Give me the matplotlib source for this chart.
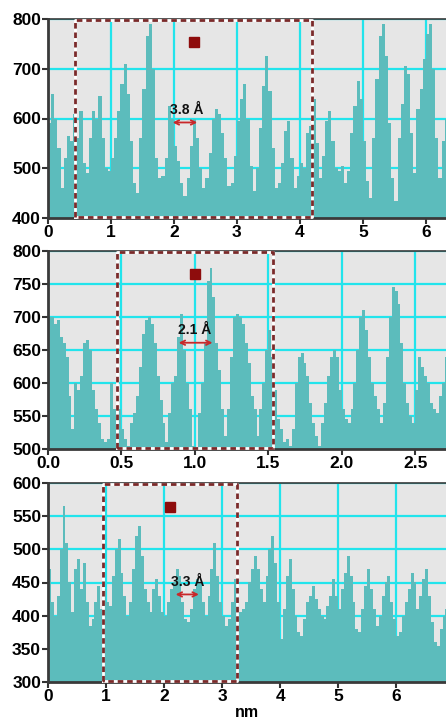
import matplotlib
matplotlib.use('Agg')
import matplotlib.pyplot as plt
import numpy as np

plt.rcParams['font.family'] = ['Liberation Sans', 'DejaVu Sans']

# profile heights, one value per bin
step_1 = 0.05
profile_1 = [
    590, 650, 600, 540, 460, 520, 565, 555, 610, 560, 615, 510, 490, 560, 615, 600,
    645, 560, 500, 495, 520, 560, 615, 670, 710, 650, 555, 470, 450, 560, 660, 765,
    790, 700, 520, 480, 485, 520, 625, 600, 545, 515, 470, 445, 480, 545, 600, 560,
    500, 460, 480, 530, 600, 620, 610, 570, 520, 465, 470, 525, 595, 640, 670, 600,
    505, 455, 500, 580, 665, 725, 655, 540, 460, 470, 510, 575, 595, 520, 460, 485,
    510, 500, 570, 585, 640, 550, 480, 525, 595, 615, 555, 500, 495, 505, 470, 495,
    570, 625, 675, 640, 555, 475, 440, 560, 680, 765, 790, 725, 590, 480, 435, 560,
    630, 705, 690, 570, 490, 620, 660, 720, 770, 790, 700, 560, 480, 555, 600,
]

step_2 = 0.02
profile_2 = [
    700, 700, 690, 695, 670, 660, 640, 580, 530, 600, 590, 610, 660, 665, 650, 590,
    560, 540, 515, 510, 515, 600, 560, 505, 560, 530, 515, 505, 540, 555, 580, 625,
    675, 695, 700, 690, 660, 610, 575, 540, 510, 555, 600, 610, 670, 705, 650, 600,
    560, 505, 500, 555, 600, 660, 755, 775, 730, 660, 620, 560, 520, 560, 640, 700,
    705, 700, 690, 660, 630, 580, 560, 520, 560, 600, 650, 680, 640, 590, 545, 530,
    510, 515, 505, 530, 600, 640, 645, 630, 610, 570, 540, 520, 505, 540, 570, 610,
    640, 650, 640, 590, 560, 545, 540, 560, 600, 650, 700, 710, 680, 640, 600, 580,
    560, 540, 570, 640, 700, 745, 740, 720, 660, 600, 570, 550, 540, 590, 640, 625,
    610, 600, 570, 560, 555, 580, 600, 640,
]

step_3 = 0.05
profile_3 = [
    470, 420, 400, 430, 500, 565, 510, 450, 405, 470, 485, 440, 480, 420, 385, 395,
    420, 445, 410, 440, 420, 415, 460, 500, 515, 465, 430, 400, 420, 470, 520, 535,
    490, 440, 420, 405, 440, 455, 430, 405, 400, 420, 440, 450, 470, 460, 420, 395,
    390, 410, 440, 455, 450, 420, 400, 430, 470, 510, 460, 420, 400, 385, 395, 420,
    455, 430, 405, 410, 420, 450, 470, 490, 470, 440, 420, 460, 500, 520, 480, 420,
    365, 410, 460, 485, 440, 400, 375, 370, 395, 420, 430, 445, 425, 410, 400, 395,
    415, 430, 455, 430, 410, 440, 465, 490, 460, 420, 380, 375, 410, 445, 470, 440,
    410, 385, 400, 430, 450, 460, 420, 395, 370, 375, 400, 420, 440, 465, 450, 410,
    430, 455, 470, 430, 390, 360, 355, 380, 400, 410,
]

panels = [
    dict(vals=profile_1, step=step_1, xlim=(0, 6.32), ylim=(400, 800),
         xticks=[0, 1, 2, 3, 4, 5, 6], xfmt='{:.0f}', yticks=[400, 500, 600, 700, 800],
         box=(0.43, 4.2), square=(2.32, 754), label='3.8 Å', label_xy=(2.2, 618),
         arrow=(1.98, 2.37, 592)),
    dict(vals=profile_2, step=step_2, xlim=(0, 2.71), ylim=(500, 800),
         xticks=[0.0, 0.5, 1.0, 1.5, 2.0, 2.5], xfmt='{:.1f}',
         yticks=[500, 550, 600, 650, 700, 750, 800],
         box=(0.47, 1.53), square=(1.0, 765), label='2.1 Å', label_xy=(1.0, 681),
         arrow=(0.89, 1.12, 661)),
    dict(vals=profile_3, step=step_3, xlim=(0, 6.86), ylim=(300, 600),
         xticks=[0, 1, 2, 3, 4, 5, 6], xfmt='{:.0f}',
         yticks=[300, 350, 400, 450, 500, 550, 600],
         box=(0.95, 3.26), square=(2.1, 564), label='3.3 Å', label_xy=(2.4, 451),
         arrow=(2.2, 2.6, 432)),
]

fig = plt.figure(figsize=(4.46, 7.22), dpi=100)
rects = [
    [48 / 446, 504 / 722, 398 / 446, 199 / 722],
    [48 / 446, 273 / 722, 398 / 446, 198 / 722],
    [48 / 446, 40 / 722, 398 / 446, 199 / 722],
]

for rect, p in zip(rects, panels):
    ax = fig.add_axes(rect)
    ax.set_facecolor('#e6e6e6')
    vals = np.array(p['vals'], dtype=float)
    edges = np.arange(len(vals) + 1) * p['step']
    ax.fill_between(edges, np.append(vals, vals[-1]), p['ylim'][0], step='post',
                    color='#5cbcbc', linewidth=0, zorder=2)
    ax.set_xlim(*p['xlim'])
    ax.set_ylim(*p['ylim'])
    ax.set_axisbelow(True)
    ax.grid(True, color='#22e4ec', linewidth=1.6)
    ax.set_xticks(p['xticks'])
    ax.set_xticklabels([p['xfmt'].format(t) for t in p['xticks']])
    ax.set_yticks(p['yticks'])
    ax.tick_params(axis='both', length=4, width=1.5, color='#333333', pad=1,
                   labelsize=12.5)
    for lab in ax.get_xticklabels() + ax.get_yticklabels():
        lab.set_fontweight('bold')
    for side in ['left', 'bottom', 'top']:
        ax.spines[side].set_linewidth(2)
        ax.spines[side].set_color('#3a3a3a')
    ax.spines['top'].set_linewidth(1.2)
    ax.spines['right'].set_visible(False)

    # dashed selection box
    x0, x1 = p['box']
    y0, y1 = p['ylim']
    dy = (y1 - y0) * 0.004
    bx = [x0, x0, x1, x1, x0]
    by = [y0 + dy, y1 - dy, y1 - dy, y0 + dy, y0 + dy]
    ax.plot(bx, by, color='white', linewidth=2, zorder=4, clip_on=False)
    ax.plot(bx, by, color='#7a2a2a', linewidth=2, linestyle=(0, (2.0, 1.4)),
            zorder=5, clip_on=False)

    ax.plot([p['square'][0]], [p['square'][1]], marker='s', markersize=7,
            color='#8e0c0c', zorder=6)
    ax.text(p['label_xy'][0], p['label_xy'][1], p['label'], ha='center',
            va='center', fontsize=10, fontweight='bold', color='#111111', zorder=6)
    ax1, ax2, ay = p['arrow']
    ax.annotate('', xy=(ax2, ay), xytext=(ax1, ay),
                arrowprops=dict(arrowstyle='<->', color='#c8282a', lw=1.3,
                                shrinkA=0, shrinkB=0, mutation_scale=8),
                zorder=6)

fig.axes[-1].set_xlabel('nm', fontsize=11.5, fontweight='bold', labelpad=1)

fig.savefig('out.png', dpi=100)
